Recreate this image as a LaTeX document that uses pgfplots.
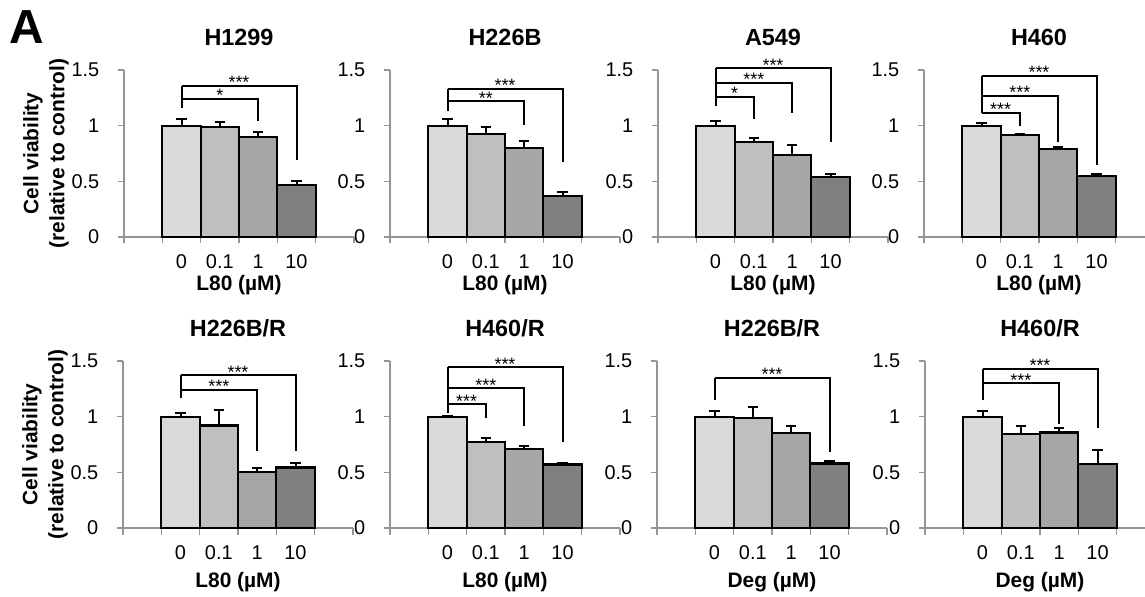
\documentclass[border=0pt]{standalone}
\usepackage{fontspec}
\setmainfont{Liberation Sans}
\usepackage{pgfplots}
\pgfplotsset{compat=1.18}

\definecolor{barA}{HTML}{D9D9D9}
\definecolor{barB}{HTML}{BFBFBF}
\definecolor{barC}{HTML}{A6A6A6}
\definecolor{barD}{HTML}{808080}
\definecolor{axgray}{HTML}{959595}

\pgfplotsset{
  panel/.style={
    width=230bp, height=167bp, scale only axis, anchor=south west,
    xmin=0, xmax=6, ymin=0, ymax=1.5, clip=false,
    axis x line*=bottom, axis y line*=left,
    axis line style={draw=axgray, line width=1.4bp},
    tick style={draw=axgray, line width=1.4bp},
    tick align=outside, major tick length=6.5bp,
    xtick={0,1,2,3,4,5,6}, xticklabels={},
    extra x ticks={1.5,2.5,3.5,4.5}, extra x tick labels={0,0.1,1,10},
    extra x tick style={major tick length=0pt},
    ytick={0,0.5,1,1.5},
    /pgf/number format/assume math mode=true,
    tick label style={font=\fontsize{20}{24}\selectfont, inner sep=0pt},
    xticklabel style={anchor=center, yshift=-25bp},
    yticklabel style={anchor=east, xshift=-18bp},
    title style={font=\bfseries\fontsize{23.5}{28}\selectfont,
      at={(axis description cs:0.5,1.162)}, anchor=center},
    xlabel style={font=\bfseries\fontsize{21}{25}\selectfont, anchor=center},
    ylabel style={font=\bfseries\fontsize{21}{26}\selectfont,
      at={(axis description cs:-0.339,0.5)}, anchor=center, align=center},
  },
  toprow/.style={xlabel style={at={(axis description cs:0.5,-0.287)}}},
  botrow/.style={xlabel style={at={(axis description cs:0.5,-0.323)}}},
  gbar/.style={ybar, bar width=1, bar shift=0pt, fill=#1,
    draw=black, line width=2.2bp},
  % error bars drawn as a separate plot on top of the bars
  errb/.style={draw=none, mark=none,
    error bars/.cd, y dir=plus, y explicit,
    error bar style={draw=black, solid, line width=2bp},
    error mark options={rotate=90, draw=black, solid, line width=2bp,
      mark size=5.3bp}},
  brk/.style={draw=black, line width=2bp, mark=none},
}
\tikzset{star/.style={font=\fontsize{18}{18}\selectfont, anchor=base,
  yshift=-3bp, inner sep=0pt}}

% bracket from the control bar to bar at #1, height #2, drop to #3, label #5 centred at #4
\newcommand{\brk}[5]{%
  \addplot[brk] coordinates {(1.5,#2)(#1,#2)(#1,#3)};
  \node[star] at (axis cs:#4,#2) {#5};
}

\begin{document}
\begin{tikzpicture}
\useasboundingbox (0,0) rectangle (1145bp,597bp);
\clip (0,0) rectangle (1145bp,597bp);

\node[font=\bfseries\fontsize{48}{48}\selectfont] at (26.5bp,569.5bp) {A};

% ---------- top row ----------
\begin{axis}[panel, toprow, at={(124bp,360bp)}, title={H1299},
  xlabel={L80 (µM)}, ylabel={Cell viability\\(relative to control)}]
\addplot[gbar=barA] coordinates {(1.5,1.00)};
\addplot[gbar=barB] coordinates {(2.5,0.99)};
\addplot[gbar=barC] coordinates {(3.5,0.90)};
\addplot[gbar=barD] coordinates {(4.5,0.47)};
\addplot[errb] coordinates {(1.5,1.00) +- (0,0.06) (2.5,0.99) +- (0,0.04)
  (3.5,0.90) +- (0,0.04) (4.5,0.47) +- (0,0.03)};
\addplot[brk] coordinates {(1.5,1.16)(1.5,1.36)};
\brk{4.5}{1.36}{0.69}{3}{***}
\brk{3.5}{1.24}{1.04}{2.5}{*}
\end{axis}

\begin{axis}[panel, toprow, at={(390bp,360bp)}, title={H226B},
  xlabel={L80 (µM)}]
\addplot[gbar=barA] coordinates {(1.5,1.00)};
\addplot[gbar=barB] coordinates {(2.5,0.925)};
\addplot[gbar=barC] coordinates {(3.5,0.80)};
\addplot[gbar=barD] coordinates {(4.5,0.37)};
\addplot[errb] coordinates {(1.5,1.00) +- (0,0.06) (2.5,0.925) +- (0,0.065)
  (3.5,0.80) +- (0,0.06) (4.5,0.37) +- (0,0.03)};
\addplot[brk] coordinates {(1.5,1.13)(1.5,1.33)};
\brk{4.5}{1.33}{0.67}{3}{***}
\brk{3.5}{1.22}{1.01}{2.5}{**}
\end{axis}

\begin{axis}[panel, toprow, at={(658bp,360bp)}, title={A549},
  xlabel={L80 (µM)}]
\addplot[gbar=barA] coordinates {(1.5,1.00)};
\addplot[gbar=barB] coordinates {(2.5,0.85)};
\addplot[gbar=barC] coordinates {(3.5,0.74)};
\addplot[gbar=barD] coordinates {(4.5,0.54)};
\addplot[errb] coordinates {(1.5,1.00) +- (0,0.045) (2.5,0.85) +- (0,0.035)
  (3.5,0.74) +- (0,0.09) (4.5,0.54) +- (0,0.03)};
\addplot[brk] coordinates {(1.5,1.18)(1.5,1.515)};
\brk{4.5}{1.515}{0.85}{3}{***}
\brk{3.5}{1.386}{1.117}{2.5}{***}
\brk{2.5}{1.26}{1.06}{2}{*}
\end{axis}

\begin{axis}[panel, toprow, at={(924bp,360bp)}, title={H460},
  xlabel={L80 (µM)}]
\addplot[gbar=barA] coordinates {(1.5,1.00)};
\addplot[gbar=barB] coordinates {(2.5,0.915)};
\addplot[gbar=barC] coordinates {(3.5,0.79)};
\addplot[gbar=barD] coordinates {(4.5,0.548)};
\addplot[errb] coordinates {(1.5,1.00) +- (0,0.02) (2.5,0.915) +- (0,0.01)
  (3.5,0.79) +- (0,0.02) (4.5,0.548) +- (0,0.015)};
\addplot[brk] coordinates {(1.5,1.11)(1.5,1.45)};
\brk{4.5}{1.45}{0.65}{3}{***}
\brk{3.5}{1.27}{0.85}{2.5}{***}
\brk{2.5}{1.117}{1.00}{2}{***}
\end{axis}

% ---------- bottom row ----------
\begin{axis}[panel, botrow, at={(123bp,69bp)}, title={H226B/R},
  xlabel={L80 (µM)}, ylabel={Cell viability\\(relative to control)}]
\addplot[gbar=barA] coordinates {(1.5,1.00)};
\addplot[gbar=barB] coordinates {(2.5,0.92)};
\addplot[gbar=barC] coordinates {(3.5,0.50)};
\addplot[gbar=barD] coordinates {(4.5,0.543)};
\addplot[errb] coordinates {(1.5,1.00) +- (0,0.03) (2.5,0.92) +- (0,0.14)
  (3.5,0.50) +- (0,0.037) (4.5,0.543) +- (0,0.04)};
\addplot[brk] coordinates {(1.5,1.165)(1.5,1.37)};
\brk{4.5}{1.37}{0.69}{3}{***}
\brk{3.5}{1.24}{0.69}{2.5}{***}
\end{axis}

\begin{axis}[panel, botrow, at={(390bp,69bp)}, title={H460/R},
  xlabel={L80 (µM)}]
\addplot[gbar=barA] coordinates {(1.5,1.00)};
\addplot[gbar=barB] coordinates {(2.5,0.77)};
\addplot[gbar=barC] coordinates {(3.5,0.708)};
\addplot[gbar=barD] coordinates {(4.5,0.57)};
\addplot[errb] coordinates {(1.5,1.00) +- (0,0.005) (2.5,0.77) +- (0,0.04)
  (3.5,0.708) +- (0,0.027) (4.5,0.57) +- (0,0.01)};
\addplot[brk] coordinates {(1.5,1.03)(1.5,1.443)};
\brk{4.5}{1.443}{0.77}{3}{***}
\brk{3.5}{1.257}{0.92}{2.5}{***}
\brk{2.5}{1.113}{0.987}{2}{***}
\end{axis}

\begin{axis}[panel, botrow, at={(657bp,69bp)}, title={H226B/R},
  xlabel={Deg (µM)}]
\addplot[gbar=barA] coordinates {(1.5,1.00)};
\addplot[gbar=barB] coordinates {(2.5,0.988)};
\addplot[gbar=barC] coordinates {(3.5,0.855)};
\addplot[gbar=barD] coordinates {(4.5,0.58)};
\addplot[errb] coordinates {(1.5,1.00) +- (0,0.054) (2.5,0.988) +- (0,0.096)
  (3.5,0.855) +- (0,0.065) (4.5,0.58) +- (0,0.02)};
\addplot[brk] coordinates {(1.5,1.15)(1.5,1.35)};
\brk{4.5}{1.35}{0.68}{3}{***}
\end{axis}

\begin{axis}[panel, botrow, at={(925bp,69bp)}, title={H460/R},
  xlabel={Deg (µM)}]
\addplot[gbar=barA] coordinates {(1.5,1.00)};
\addplot[gbar=barB] coordinates {(2.5,0.846)};
\addplot[gbar=barC] coordinates {(3.5,0.858)};
\addplot[gbar=barD] coordinates {(4.5,0.572)};
\addplot[errb] coordinates {(1.5,1.00) +- (0,0.05) (2.5,0.846) +- (0,0.074)
  (3.5,0.858) +- (0,0.042) (4.5,0.572) +- (0,0.128)};
\addplot[brk] coordinates {(1.5,1.15)(1.5,1.43)};
\brk{4.5}{1.43}{0.90}{3}{***}
\brk{3.5}{1.30}{0.93}{2.5}{***}
\end{axis}
\end{tikzpicture}
\end{document}
